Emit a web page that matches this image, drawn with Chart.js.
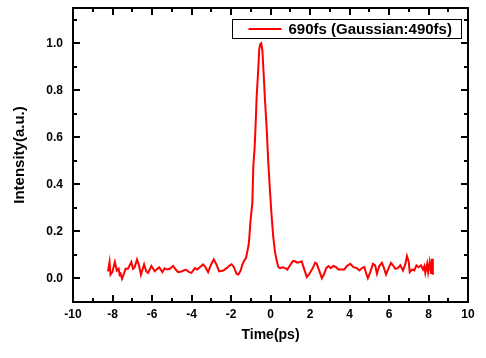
<!DOCTYPE html>
<html><head><meta charset="utf-8">
<script src="https://cdn.jsdelivr.net/npm/chart.js@4/dist/chart.umd.min.js"></script>
<style>html,body{margin:0;padding:0;background:#fff}canvas{display:block}</style>
</head><body>
<canvas id="c" width="486" height="358"></canvas>
<script>
const seriesLabel = '690fs (Gaussian:490fs)';
const timePs = [
-8.23,-8.15,-8.10,-8.01,-7.88,-7.78,-7.69,-7.64,-7.59,-7.52,-7.42,-7.34,-7.22,-7.05,-6.96,-6.88,-6.76,-6.66,-6.56,-6.40,-6.29,-6.20,-6.03,-5.86,-5.64,
-5.47,-5.36,-5.24,-5.10,-4.93,-4.80,-4.68,-4.51,-4.29,-4.12,-4.00,-3.83,-3.71,-3.58,-3.41,-3.29,-3.16,-2.99,-2.87,-2.73,-2.60,
-2.39,-2.22,-2.06,-1.97,-1.85,-1.72,-1.63,-1.51,-1.43,-1.35,-1.24,-1.18,-1.11,
-1.07,-1.01,-0.92,-0.87,-0.80,-0.75,-0.70,-0.63,-0.57,-0.52,-0.47,-0.41,-0.35,-0.28,-0.19,-0.11,-0.03,0.06,0.14,0.23,0.31,0.40,
0.48,0.62,0.74,0.85,0.99,1.13,1.24,1.36,1.50,1.58,1.70,1.84,1.97,2.14,2.26,2.34,2.48,2.60,2.72,2.82,2.94,3.05,3.19,3.32,3.44,
3.53,3.73,3.87,4.04,4.20,4.37,4.51,4.63,4.75,4.85,4.93,5.05,5.19,5.30,5.39,5.51,5.64,5.73,5.85,5.98,6.10,6.20,6.32,6.44,6.57,
6.71,6.83,6.91,7.00,7.05,7.17,7.28,7.39,7.50,7.62,7.72,7.79,7.84,7.93,7.98,8.06,8.13,8.18,8.22
];
const intensity = [
0.030,0.070,0.016,0.027,0.070,0.034,0.041,0.016,0.021,-0.001,0.020,0.041,0.041,0.070,0.041,0.048,0.081,0.056,0.016,0.060,0.030,0.024,0.053,0.031,0.048,
0.027,0.043,0.038,0.041,0.053,0.038,0.027,0.030,0.038,0.027,0.024,0.044,0.038,0.048,0.060,0.048,0.027,0.063,0.081,0.058,0.030,
0.034,0.044,0.056,0.060,0.048,0.020,0.017,0.034,0.058,0.073,0.087,0.112,0.141,
0.177,0.248,0.320,0.476,0.561,0.661,0.775,0.875,0.974,0.996,1.000,0.970,0.875,0.761,0.632,0.490,0.376,0.262,0.177,0.112,0.077,0.048,
0.044,0.048,0.044,0.038,0.056,0.074,0.073,0.067,0.070,0.073,0.041,0.006,0.020,0.044,0.067,0.063,0.030,0.001,0.020,0.044,0.053,0.044,0.053,0.048,0.038,
0.038,0.038,0.053,0.062,0.048,0.044,0.034,0.044,0.048,0.020,0.001,0.027,0.062,0.056,0.020,0.053,0.067,0.048,0.017,0.044,0.066,0.056,0.041,0.044,0.056,
0.034,0.062,0.095,0.070,0.027,0.038,0.034,0.056,0.048,0.056,0.038,0.053,0.024,0.062,0.027,0.070,0.020,0.084,0.016
];
const xMajorTicks = [-10,-8,-6,-4,-2,0,2,4,6,8,10];
const xMinorTicks = [-9,-7,-5,-3,-1,1,3,5,7,9];
const yMajorTicks = [0.0,0.2,0.4,0.6,0.8,1.0];
const yMinorTicks = [0.1,0.3,0.5,0.7,0.9,1.1];
const xTitle = 'Time(ps)';
const yTitle = 'Intensity(a.u.)';
const FONT = '"Liberation Sans", Arial, sans-serif';

const originFrame = {
  id: 'originFrame',
  afterDatasetsDraw(chart) {
    const {ctx, chartArea: a, scales: {x, y}} = chart;
    ctx.save();
    ctx.strokeStyle = '#000';
    ctx.lineWidth = 2;
    ctx.strokeRect(a.left, a.top, a.right - a.left, a.bottom - a.top);
    ctx.beginPath();
    const tx = (vals, len) => vals.forEach(v => {
      const p = Math.round(x.getPixelForValue(v));
      ctx.moveTo(p, a.bottom); ctx.lineTo(p, a.bottom - len);
      ctx.moveTo(p, a.top); ctx.lineTo(p, a.top + len);
    });
    const ty = (vals, len) => vals.forEach(v => {
      const p = Math.round(y.getPixelForValue(v));
      ctx.moveTo(a.left, p); ctx.lineTo(a.left + len, p);
      ctx.moveTo(a.right, p); ctx.lineTo(a.right - len, p);
    });
    tx(xMajorTicks, 7); tx(xMinorTicks, 4);
    ty(yMajorTicks, 7); ty(yMinorTicks, 4);
    ctx.stroke();

    // legend box inside plot
    const ds = chart.data.datasets[0];
    ctx.font = 'bold 15px ' + FONT;
    const tw = ctx.measureText(ds.label).width;
    const boxR = Math.round(a.right - 7) + 0.5;
    const boxW = Math.round(16 + 33 + 7 + tw + 10);
    const boxL = boxR - boxW;
    const boxT = Math.round(a.top + 11) + 0.5;
    const boxH = 19;
    ctx.lineWidth = 1;
    ctx.strokeRect(boxL, boxT, boxW, boxH);
    ctx.strokeStyle = ds.borderColor;
    ctx.lineWidth = 2;
    ctx.beginPath();
    ctx.moveTo(boxL + 16, boxT + 9.5);
    ctx.lineTo(boxL + 49, boxT + 9.5);
    ctx.stroke();
    ctx.fillStyle = '#000';
    ctx.textBaseline = 'middle';
    ctx.textAlign = 'left';
    ctx.fillText(ds.label, boxL + 56, boxT + 10);
    ctx.restore();
  }
};

new Chart(document.getElementById('c'), {
  type: 'line',
  data: {
    datasets: [{
      label: seriesLabel,
      data: timePs.map((t, i) => ({x: t, y: intensity[i]})),
      borderColor: '#ff0000',
      borderWidth: 2,
      pointRadius: 0,
      tension: 0,
      fill: false
    }]
  },
  options: {
    responsive: false,
    animation: false,
    devicePixelRatio: 1,
    layout: {padding: {top: 8, right: 18, left: 0, bottom: 0}},
    plugins: {legend: {display: false}, tooltip: {enabled: false}},
    scales: {
      x: {
        type: 'linear', min: -10, max: 10,
        afterFit(s) { s.height = 56; s.paddingLeft = 0; s.paddingRight = 0; },
        afterBuildTicks(s) { s.ticks = xMajorTicks.map(v => ({value: v})); },
        grid: {display: false, drawTicks: false},
        border: {display: false},
        ticks: {color: '#000', padding: 5, maxRotation: 0, autoSkip: false,
          font: {family: FONT, size: 12, weight: 'bold'},
          callback: v => String(v)},
        title: {display: true, text: xTitle, color: '#000',
          font: {family: FONT, size: 14, weight: 'bold'}, padding: {top: 0, bottom: 14}}
      },
      y: {
        type: 'linear', min: -0.1, max: 1.15,
        afterFit(s) { s.width = 73; s.paddingTop = 0; s.paddingBottom = 0; },
        afterBuildTicks(s) { s.ticks = yMajorTicks.map(v => ({value: v})); },
        grid: {display: false, drawTicks: false},
        border: {display: false},
        ticks: {color: '#000', padding: 10, autoSkip: false,
          font: {family: FONT, size: 12, weight: 'bold'},
          callback: v => Number(v).toFixed(1)},
        title: {display: true, text: yTitle, color: '#000',
          font: {family: FONT, size: 15, weight: 'bold'}, padding: {top: 11, bottom: 0}}
      }
    }
  },
  plugins: [originFrame]
});
</script>
</body></html>
